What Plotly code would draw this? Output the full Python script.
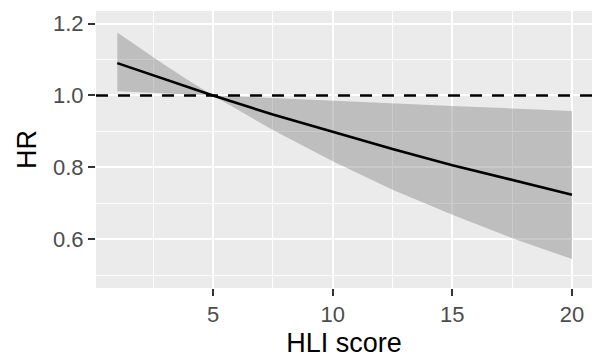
import plotly.graph_objects as go

# Data
hli_score = [1, 2, 3, 4, 5, 7.5, 10, 12.5, 15, 17.5, 20]
hr = [1.090, 1.067, 1.044, 1.022, 1.000, 0.947, 0.898, 0.851, 0.806, 0.764, 0.724]
hr_upper = [1.175, 1.129, 1.084, 1.041, 1.000, 0.993, 0.985, 0.978, 0.971, 0.964, 0.957]
hr_lower = [1.012, 1.009, 1.006, 1.003, 1.000, 0.904, 0.817, 0.738, 0.668, 0.603, 0.545]
ref_hr = 1.0

x_ticks = [5, 10, 15, 20]
y_ticks = [0.6, 0.8, 1.0, 1.2]
y_tick_text = ["0.6", "0.8", "1.0", "1.2"]

FONT = "Liberation Sans, Arial, Helvetica, sans-serif"

fig = go.Figure()
fig.add_trace(go.Scatter(x=hli_score, y=hr_lower, mode="lines",
                         line=dict(width=0), hoverinfo="skip", showlegend=False))
fig.add_trace(go.Scatter(x=hli_score, y=hr_upper, mode="lines",
                         line=dict(width=0), fill="tonexty",
                         fillcolor="rgba(128,128,128,0.42)", hoverinfo="skip",
                         showlegend=False))
fig.add_hline(y=ref_hr, line=dict(color="black", width=2.5, dash="12px,10px"))
fig.add_trace(go.Scatter(x=hli_score, y=hr, mode="lines",
                         line=dict(color="black", width=2.6), showlegend=False))

fig.update_layout(
    width=592, height=361,
    margin=dict(l=96, r=0, t=11, b=73),
    paper_bgcolor="white", plot_bgcolor="#EBEBEB",
    font=dict(family=FONT),
)
fig.update_xaxes(
    range=[0.111, 20.836], tickvals=x_ticks, ticktext=[str(v) for v in x_ticks],
    ticks="outside", ticklen=7, tickwidth=2, tickcolor="#333333",
    tickfont=dict(size=22, color="#4D4D4D", family=FONT),
    showgrid=True, gridcolor="white", gridwidth=2.2, zeroline=False, showline=False,
    minor=dict(tick0=0, dtick=2.5, showgrid=True, gridcolor="white", gridwidth=1.1, ticks=""),
    title=dict(text="HLI score", font=dict(size=27, color="black", family=FONT), standoff=6),
)
fig.update_yaxes(
    range=[0.4645, 1.235], tickvals=y_ticks, ticktext=y_tick_text,
    ticks="outside", ticklen=7, tickwidth=2, tickcolor="#333333",
    tickfont=dict(size=22, color="#4D4D4D", family=FONT),
    showgrid=True, gridcolor="white", gridwidth=2.2, zeroline=False, showline=False,
    minor=dict(tick0=0, dtick=0.1, showgrid=True, gridcolor="white", gridwidth=1.1, ticks=""),
    title=dict(text="HR", font=dict(size=27, color="black", family=FONT), standoff=8),
)

fig.write_html("out.html")
